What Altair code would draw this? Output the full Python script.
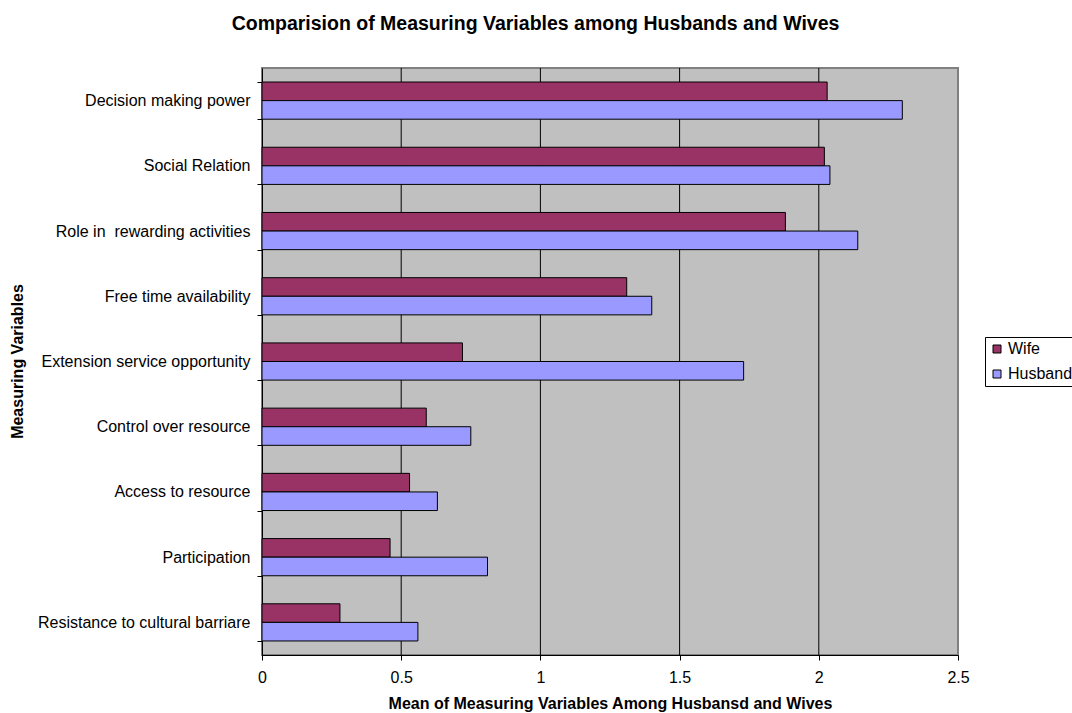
import altair as alt
import pandas as pd

# Measuring variables, listed top to bottom
categories = [
    "Decision making power",
    "Social Relation",
    "Role in\u00a0 rewarding activities",
    "Free time availability",
    "Extension service opportunity",
    "Control over resource",
    "Access to resource",
    "Participation",
    "Resistance to cultural barriare",
]
series = ["Wife", "Husband"]
wife_means = [2.03, 2.02, 1.88, 1.31, 0.72, 0.59, 0.53, 0.46, 0.28]
husband_means = [2.30, 2.04, 2.14, 1.40, 1.73, 0.75, 0.63, 0.81, 0.56]
x_ticks = [0, 0.5, 1, 1.5, 2, 2.5]
grid_values = [0.5, 1, 1.5, 2]

rows = []
for cat, w, h in zip(categories, wife_means, husband_means):
    rows.append({"variable": cat, "group": "Wife", "mean": w})
    rows.append({"variable": cat, "group": "Husband", "mean": h})
df = pd.DataFrame(rows)
grid_df = pd.DataFrame({"mean": grid_values})

FONT = "Liberation Sans"
x_scale = alt.Scale(domain=[0, 2.5], nice=False, zero=True)

# Vertical black gridlines inside the plot area (the right edge keeps the grey frame)
grid = alt.Chart(grid_df).mark_rule(color="black", strokeWidth=1).encode(
    x=alt.X("mean:Q", scale=x_scale)
)

bars = alt.Chart(df).mark_bar(stroke="black", strokeWidth=1).encode(
    x=alt.X(
        "mean:Q",
        scale=x_scale,
        axis=alt.Axis(
            values=x_ticks,
            format=".1~f",
            title="Mean of Measuring Variables Among Husbansd and Wives",
            grid=False,
            domainColor="black",
            tickColor="black",
            tickSize=5,
            labelPadding=9,
            labelFont=FONT,
            labelFontSize=16,
            labelColor="black",
            labelFlush=False,
            titleFont=FONT,
            titleFontSize=16,
            titleFontWeight="bold",
            titleColor="black",
            titlePadding=10,
        ),
    ),
    y=alt.Y(
        "variable:N",
        sort=categories,
        scale=alt.Scale(paddingInner=0.43, paddingOuter=0.215),
        axis=alt.Axis(
            title="Measuring Variables",
            tickBand="extent",
            domainColor="black",
            tickColor="black",
            tickSize=5,
            labelPadding=7,
            labelFont=FONT,
            labelFontSize=16,
            labelColor="black",
            labelLimit=400,
            titleFont=FONT,
            titleFontSize=16,
            titleFontWeight="bold",
            titleColor="black",
            titleAngle=-90,
            titleX=-237,
            titleY=293,
        ),
    ),
    yOffset=alt.YOffset("group:N", sort=series),
    color=alt.Color(
        "group:N",
        sort=series,
        scale=alt.Scale(domain=series, range=["#993366", "#9999FF"]),
        legend=alt.Legend(
            title=None,
            orient="none",
            legendX=723,
            legendY=269,
            symbolType="square",
            symbolSize=64,
            symbolStrokeColor="black",
            symbolStrokeWidth=1,
            symbolOpacity=1,
            labelFont=FONT,
            labelFontSize=16,
            labelColor="black",
            labelOffset=3,
            rowPadding=9,
            padding=4,
            strokeColor="black",
            fillColor="white",
        ),
    ),
)

chart = alt.layer(grid, bars).properties(
    width=696,
    height=587,
    view=alt.ViewBackground(fill="#C0C0C0", stroke="#808080", strokeWidth=2, strokeOpacity=1),
    title=alt.TitleParams(
        "Comparision of Measuring Variables among Husbands and Wives",
        font=FONT,
        fontSize=19.5,
        fontWeight="bold",
        color="black",
        anchor="middle",
        dx=-74.5,
        offset=26,
    ),
    autosize=alt.AutoSizeParams(type="none"),
    padding={"left": 262, "top": 68, "right": 114, "bottom": 58},
).configure(background="white")

chart.save("out.html", embed_options={"renderer": "svg", "actions": False})
